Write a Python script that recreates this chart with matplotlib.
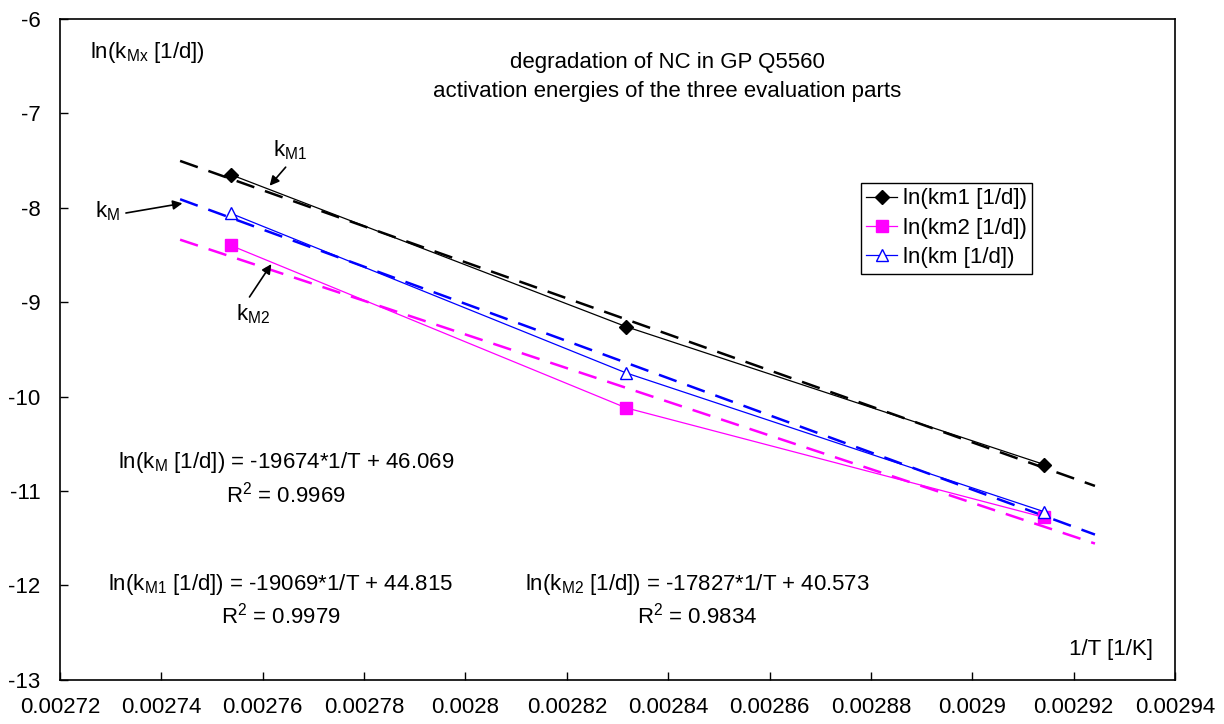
import numpy as np
import matplotlib
matplotlib.use("Agg")
from matplotlib import pyplot as plt

plt.rcParams["font.family"] = ["Liberation Sans", "DejaVu Sans"]
plt.rcParams["mathtext.fontset"] = "custom"
plt.rcParams["mathtext.rm"] = "Liberation Sans"
plt.rcParams["axes.unicode_minus"] = False

# 1/T for 90, 80 and 70 degC
inv_T = [0.0027537, 0.0028317, 0.0029142]
ln_km1 = [-7.65, -9.26, -10.72]
ln_km2 = [-8.40, -10.12, -11.28]
ln_km = [-8.06, -9.75, -11.22]

# trendline coefficients (slope, intercept) as printed on the chart
fit_km = (-19674, 46.069)
fit_km1 = (-19069, 44.815)
fit_km2 = (-17827, 40.573)
fit_range = [0.0027437, 0.0029242]

x_ticks = [0.00272, 0.00274, 0.00276, 0.00278, 0.0028, 0.00282,
           0.00284, 0.00286, 0.00288, 0.0029, 0.00292, 0.00294]
x_labels = ["0.00272", "0.00274", "0.00276", "0.00278", "0.0028", "0.00282",
            "0.00284", "0.00286", "0.00288", "0.0029", "0.00292", "0.00294"]
y_ticks = [-13, -12, -11, -10, -9, -8, -7, -6]
y_labels = ["-13", "-12", "-11", "-10", "-9", "-8", "-7", "-6"]

fs = 16
fig = plt.figure(figsize=(12.24, 7.24), dpi=100)
ax = fig.add_axes([0.049, 0.061, 0.911, 0.913])

fx = np.array(fit_range)
dash = (7.5, 4.5)
for (m, b), col in [(fit_km1, "black"), (fit_km, "#0000FF"), (fit_km2, "#FF00FF")]:
    ax.plot(fx, m * fx + b, color=col, lw=1.8, dashes=dash, zorder=2)

ax.plot(inv_T, ln_km1, color="black", lw=0.9, marker="D", ms=7,
        label="ln(km1 [1/d])", zorder=3)
ax.plot(inv_T, ln_km2, color="#FF00FF", lw=0.9, marker="s", ms=8,
        label="ln(km2 [1/d])", zorder=3)
ax.plot(inv_T, ln_km, color="#0000FF", lw=0.9, marker="^", ms=8.5,
        mfc="white", mew=1.0, label="ln(km [1/d])", zorder=3)

ax.set_xlim(0.00272, 0.00294)
ax.set_ylim(-13, -6)
ax.set_xticks(x_ticks)
ax.set_xticklabels(x_labels, fontsize=fs)
ax.set_yticks(y_ticks)
ax.set_yticklabels(y_labels, fontsize=fs)
ax.tick_params(axis="both", direction="in", length=6, width=1)
ax.tick_params(axis="y", pad=14)
ax.tick_params(axis="x", pad=12)
for s in ax.spines.values():
    s.set_linewidth(1.2)

ax.text(0.002726, -6.41, r"ln(k$_\mathregular{Mx}$ [1/d])", fontsize=fs, va="baseline")
ax.text(0.0028398, -6.52, "degradation of NC in GP Q5560", fontsize=fs,
        ha="center", va="baseline")
ax.text(0.0028398, -6.83, "activation energies of the three evaluation parts",
        fontsize=fs, ha="center", va="baseline")

# series labels with arrows
arrow = dict(arrowstyle="-|>", color="black", lw=1.2, mutation_scale=14)
ax.annotate(r"k$_\mathregular{M1}$", xy=(0.002761, -7.79), xytext=(0.002762, -7.46),
            fontsize=fs, va="baseline", arrowprops=dict(arrow, relpos=(0.5, 0)))
ax.annotate(r"k$_\mathregular{M}$", xy=(0.0027447, -7.949), xytext=(0.002727, -8.107),
            fontsize=fs, va="baseline", arrowprops=dict(arrow, relpos=(1.0, 0.4)))
ax.annotate(r"k$_\mathregular{M2}$", xy=(0.002762, -8.573), xytext=(0.0027547, -9.19),
            fontsize=fs, va="baseline", arrowprops=dict(arrow, relpos=(0.3, 1.0)))

# trendline equations
ax.text(0.0027646, -10.755, r"ln(k$_\mathregular{M}$ [1/d]) = -19674*1/T + 46.069",
        fontsize=fs, ha="center", va="baseline")
ax.text(0.0027646, -11.125, r"R$^\mathregular{2}$ = 0.9969", fontsize=fs,
        ha="center", va="baseline")
ax.text(0.0027636, -12.05, r"ln(k$_\mathregular{M1}$ [1/d]) = -19069*1/T + 44.815",
        fontsize=fs, ha="center", va="baseline")
ax.text(0.0027636, -12.40, r"R$^\mathregular{2}$ = 0.9979", fontsize=fs,
        ha="center", va="baseline")
ax.text(0.0028458, -12.05, r"ln(k$_\mathregular{M2}$ [1/d]) = -17827*1/T + 40.573",
        fontsize=fs, ha="center", va="baseline")
ax.text(0.0028458, -12.40, r"R$^\mathregular{2}$ = 0.9834", fontsize=fs,
        ha="center", va="baseline")

ax.text(0.0029356, -12.735, "1/T [1/K]", fontsize=fs, ha="right", va="baseline")

leg = ax.legend(loc="upper left", bbox_to_anchor=(0.718, 0.752), fontsize=fs,
                frameon=True, fancybox=False, framealpha=1, edgecolor="black",
                borderpad=0.25, labelspacing=0.38, handlelength=1.4,
                handletextpad=0.25, borderaxespad=0)
leg.get_frame().set_linewidth(1.0)

fig.savefig("out.png", dpi=100)
